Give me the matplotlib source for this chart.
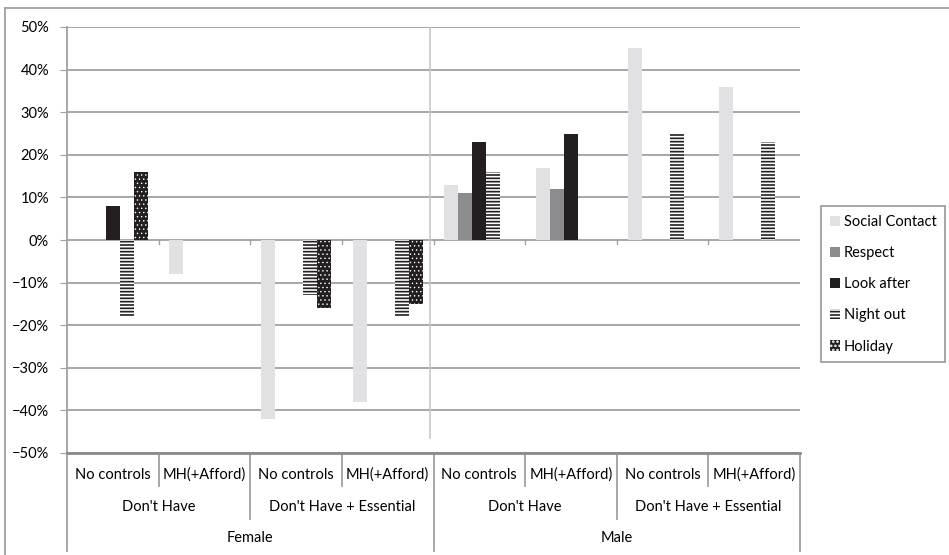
import numpy as np
import matplotlib
matplotlib.use("Agg")
import matplotlib.pyplot as plt
from matplotlib.lines import Line2D
from matplotlib.patches import Patch
from matplotlib.ticker import PercentFormatter

plt.rcParams['font.family'] = ['Lato', 'DejaVu Sans']
plt.rcParams['hatch.linewidth'] = 1.2

# data (percent)
level1 = ["No controls", "MH(+Afford)"] * 4
level2 = ["Don't Have", "Don't Have + Essential"] * 2
level3 = ["Female", "Male"]

social_contact = [0, -8, -42, -38, 13, 17, 45, 36]
respect = [0, 0, 0, 0, 11, 12, 0, 0]
look_after = [8, 0, 0, 0, 23, 25, 0, 0]
night_out = [-18, 0, -13, -18, 16, 0, 25, 23]
holiday = [16, 0, -16, -15, 0, 0, 0, 0]

series = ["Social Contact", "Respect", "Look after", "Night out", "Holiday"]
values = [social_contact, respect, look_after, night_out, holiday]
faces = ["#e1e1e3", "#8c8c8e", "#231f20", "white", "#231f20"]
edges = ["#e1e1e3", "#8c8c8e", "#231f20", "#231f20", "white"]
hatches = [None, None, None, "-----", "...."]
hatch_lw = [1.2, 1.2, 1.2, 1.2, 0.5]

W, H = 949, 555
fig = plt.figure(figsize=(W / 100, H / 100), dpi=100)
L, R, T, B = 67, 800, 27, 453
ax = fig.add_axes([L / W, 1 - B / H, (R - L) / W, (B - T) / H])

gray = "#a0a0a0"
fs = 10.5
x = np.arange(len(level1))
bw = 0.153
handles = []
for i in range(5):
    with plt.rc_context({'hatch.linewidth': hatch_lw[i]}):
        ax.bar(x + (i - 2) * bw, values[i], bw, color=faces[i], edgecolor=edges[i],
               hatch=hatches[i], linewidth=0, zorder=3, label=series[i])
        handles.append(Patch(facecolor=faces[i], edgecolor=edges[i],
                             hatch=hatches[i], linewidth=0))

ax.set_xlim(-0.5, len(level1) - 0.5)
ax.set_ylim(-50, 50)
ax.set_yticks(np.arange(-50, 51, 10))
ax.yaxis.set_major_formatter(PercentFormatter(decimals=0))
ax.grid(axis='y', color=gray, linewidth=1.3, zorder=0)
ax.set_xticks([])
ax.tick_params(axis='y', length=5, color=gray, labelsize=fs, pad=8)
for s in ['top', 'right']:
    ax.spines[s].set_visible(False)
ax.spines['left'].set_color(gray)
ax.spines['bottom'].set_color("#8a8a8a")
ax.spines['bottom'].set_linewidth(2)
ax.spines['left'].set_linewidth(1.3)

# small ticks on the zero line
for b in np.arange(0.5, len(level1) - 1, 1):
    ax.plot([b, b], [0, -1], color=gray, lw=1, zorder=2)

# divider between female and male
ax.plot([3.46, 3.46], [50, -46.5], color="#c8c8c8", lw=1.2, zorder=2)

# hierarchical category labels
tr = ax.get_xaxis_transform()
def fy(py):
    return (B - py) / (B - T)

for i, lab in enumerate(level1):
    ax.text(i, fy(475), lab, transform=tr, ha='center', va='center', fontsize=fs)
for j, lab in enumerate(level2):
    ax.text(2 * j + 0.5, fy(507), lab, transform=tr, ha='center', va='center', fontsize=fs)
for k, lab in enumerate(level3):
    ax.text(4 * k + 1.5, fy(538), lab, transform=tr, ha='center', va='center', fontsize=fs)

for b in np.arange(-0.5, len(level1), 1):
    if b in (-0.5, 3.5, 7.5):
        end = 551
    elif b in (1.5, 5.5):
        end = 519
    else:
        end = 486
    ax.plot([b, b], [0, fy(end)], transform=tr, color=gray, lw=1.3, clip_on=False)

# chart frame
fig.add_artist(Line2D([5 / W, 5 / W], [0, 1 - 8 / H], color=gray, lw=1.3))
fig.add_artist(Line2D([5 / W, 1], [1 - 8 / H, 1 - 8 / H], color=gray, lw=1.3))

leg = fig.legend(handles, series, loc='upper left', bbox_to_anchor=(821 / W, 1 - 206 / H),
                 bbox_transform=fig.transFigure, borderaxespad=0, fontsize=fs,
                 handlelength=0.7, handleheight=0.7, handletextpad=0.25,
                 labelspacing=1.18, fancybox=False, framealpha=1, borderpad=0.6)
leg.get_frame().set_edgecolor(gray)
leg.get_frame().set_linewidth(1.3)

fig.savefig("out.png", dpi=100)
